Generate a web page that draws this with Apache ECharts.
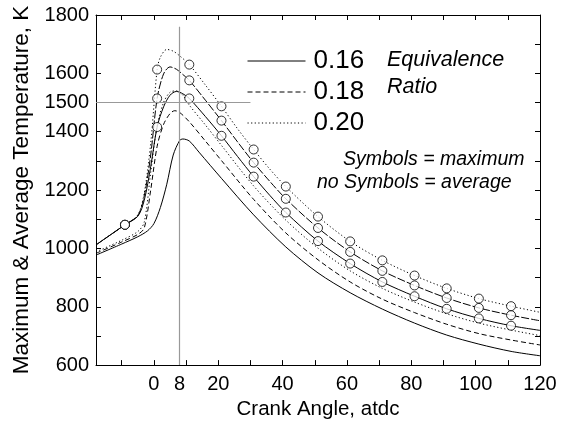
<!DOCTYPE html>
<html>
<head>
<meta charset="utf-8">
<script src="https://cdn.jsdelivr.net/npm/echarts@6/dist/echarts.min.js"></script>
<style>
html,body{margin:0;padding:0;background:#fff;}
#chart{width:562px;height:425px;}
</style>
</head>
<body>
<div id="chart"></div>
<script>
// ---------- data ----------
const xTicks = [-10,0,10,20,30,40,50,60,70,80,90,100,110,120];
const xLabels = [0,8,20,40,60,80,100,120];
const yTicks = [600,700,800,900,1000,1100,1200,1300,1400,1500,1600,1700,1800];
const yLabels = [600,800,1000,1200,1400,1500,1600,1800];

// maximum temperature curves
const max20X = [-18,-9,-5,-3,-1,1,2,4,6,8,11,16,21,26,31,36,41,51,61,71,81,91,101,111,120];
const max20Y = [1012,1081,1115,1190,1360,1613,1655,1682,1676,1660,1630,1560,1487,1410,1339,1272,1212,1109,1024,959,907,863,828,802,781];
const max18X = [-18,-9,-5,-3,-1,1,3,5,7,9,11,16,21,26,31,36,41,51,61,71,81,91,101,111,120];
const max18Y = [1012,1081,1113,1180,1320,1514,1598,1622,1614,1596,1576,1508,1438,1365,1294,1230,1170,1070,988,923,873,830,796,771,752];
const max16X = [-18,-9,-5,-3,-1,1,3,5,7,9,11,16,21,26,31,36,41,51,61,71,81,91,101,111,120];
const max16Y = [1012,1081,1110,1165,1280,1416,1485,1525,1538,1530,1514,1452,1386,1315,1246,1182,1123,1025,948,885,836,793,760,735,719];

// average temperature curves
const avg16X = [-18,-10,-5,-2,0,2,4,6,8,9,11,14,21,31,41,51,61,71,81,91,101,111,120];
const avg16Y = [977,1015,1040,1060,1085,1140,1220,1320,1370,1375,1368,1330,1240,1115,1005,916,848,792,744,703,672,647,632];
const avg18X = [-18,-10,-5,-3,-1,1,3,5,6.5,8,11,16,21,31,41,51,61,71,81,91,101,111,120];
const avg18Y = [983,1022,1048,1070,1200,1350,1425,1462,1472,1466,1434,1368,1301,1168,1053,961,885,826,780,740,708,686,669];
const avg20X = [-18,-10,-5,-3,-1,1,3,5,7,9,11,16,21,31,41,51,61,71,81,91,101,111,120];
const avg20Y = [988,1028,1058,1090,1260,1420,1500,1535,1540,1525,1491,1423,1353,1214,1097,1001,923,863,816,776,744,720,701];

// symbols (maximum)
const markX = [-9,1,11,21,31,41,51,61,71,81,91,101,111];
const mark20Y = [1081,1613,1630,1487,1339,1212,1109,1024,959,907,863,828,802];
const mark18Y = [1081,1514,1576,1438,1294,1170,1070,988,923,873,830,796,771];
const mark16Y = [1081,1416,1514,1386,1246,1123,1025,948,885,836,793,760,735];

// reference lines
const refCrank = 8;
const refCrankTop = 1760;
const refTemp = 1500;
const refTempEnd = 30;

const legendNames = ['0.16','0.18','0.20'];

// ---------- chart ----------
const FONT = 'Liberation Sans';
const zip = (xs, ys) => xs.map((x, i) => [x, ys[i]]);
const DASH = [5, 3];
const DOT = [1.2, 2.4];
const DASHMAX = [8, 2];

function lineSeries(name, xs, ys, type) {
  return {
    name: name, type: 'line', data: zip(xs, ys),
    showSymbol: false, symbol: 'none',
    smooth: 0.3,
    lineStyle: {color: '#000', width: 1, type: type},
    itemStyle: {color: '#000'},
    z: 3
  };
}
function markSeries(name, ys) {
  return {
    name: name, type: 'scatter', data: zip(markX, ys),
    symbol: 'circle', symbolSize: 9,
    itemStyle: {color: '#fff', borderColor: '#000', borderWidth: 1},
    z: 4
  };
}

const axisCommon = {
  type: 'value',
  axisLine: {show: true, onZero: false, lineStyle: {color: '#000', width: 1}},
  axisTick: {show: true, inside: true, length: 5, lineStyle: {color: '#000'}},
  splitLine: {show: false}
};
const plain = v => String(v);

const option = {
  animation: false,
  backgroundColor: '#fff',
  grid: {left: 96, right: 22, top: 15, bottom: 53},
  legend: {
    data: legendNames.map(n => ({name: n})),
    orient: 'vertical', left: 247, top: 48, padding: 0,
    itemWidth: 58, itemHeight: 14, itemGap: 5,
    selectedMode: false,
    itemStyle: {opacity: 0},
    lineStyle: {width: 1},
    textStyle: {fontFamily: FONT, fontSize: 26, color: '#000', padding: [0,0,0,3]}
  },
  xAxis: [
    Object.assign({}, axisCommon, {
      min: -18, max: 120, position: 'bottom',
      axisTick: Object.assign({}, axisCommon.axisTick, {customValues: xTicks}),
      axisLabel: {customValues: xLabels, formatter: plain, fontFamily: FONT, fontSize: 20, color: '#000', margin: 9},
      name: 'Crank Angle, atdc', nameLocation: 'middle', nameGap: 29,
      nameTextStyle: {fontFamily: FONT, fontSize: 20.5, color: '#000'}
    }),
    Object.assign({}, axisCommon, {
      min: -18, max: 120, position: 'top',
      axisTick: Object.assign({}, axisCommon.axisTick, {customValues: xTicks}),
      axisLabel: {show: false}
    })
  ],
  yAxis: [
    Object.assign({}, axisCommon, {
      min: 600, max: 1800, position: 'left',
      axisTick: Object.assign({}, axisCommon.axisTick, {customValues: yTicks}),
      axisLabel: {customValues: yLabels, formatter: plain, fontFamily: FONT, fontSize: 20, color: '#000', margin: 7},
      name: 'Maximum & Average Temperature, K', nameLocation: 'middle', nameGap: 62,
      nameTextStyle: {fontFamily: FONT, fontSize: 22.5, color: '#000'}
    }),
    Object.assign({}, axisCommon, {
      min: 600, max: 1800, position: 'right',
      axisTick: Object.assign({}, axisCommon.axisTick, {customValues: yTicks}),
      axisLabel: {show: false}
    })
  ],
  graphic: [
    {type: 'text', left: 387, top: 49, style: {text: 'Equivalence', font: 'italic 21.5px "Liberation Sans"', fill: '#000'}},
    {type: 'text', left: 387, top: 76, style: {text: 'Ratio', font: 'italic 21.5px "Liberation Sans"', fill: '#000'}},
    {type: 'text', left: 343, top: 150, style: {text: 'Symbols = maximum', font: 'italic 19.5px "Liberation Sans"', fill: '#000'}},
    {type: 'text', left: 317, top: 173, style: {text: 'no Symbols = average', font: 'italic 19.5px "Liberation Sans"', fill: '#000'}}
  ],
  series: [
    lineSeries('0.16', avg16X, avg16Y, 'solid'),
    lineSeries('0.18', avg18X, avg18Y, DASH),
    lineSeries('0.20', avg20X, avg20Y, DOT),
    lineSeries('max 0.16', max16X, max16Y, 'solid'),
    lineSeries('max 0.18', max18X, max18Y, DASHMAX),
    lineSeries('max 0.20', max20X, max20Y, DOT),
    markSeries('m 0.16', mark16Y),
    markSeries('m 0.18', mark18Y),
    markSeries('m 0.20', mark20Y),
    {
      name: 'ref', type: 'line', data: [], silent: true,
      markLine: {
        silent: true, symbol: 'none', label: {show: false},
        lineStyle: {color: '#999', width: 1.2, type: 'solid'},
        data: [
          [{coord: [refCrank, 600]}, {coord: [refCrank, refCrankTop]}],
          [{coord: [-18, refTemp]}, {coord: [refTempEnd, refTemp]}]
        ]
      },
      z: 2
    }
  ]
};

const chart = echarts.init(document.getElementById('chart'), null, {renderer: 'canvas'});
chart.setOption(option);
</script>
</body>
</html>
